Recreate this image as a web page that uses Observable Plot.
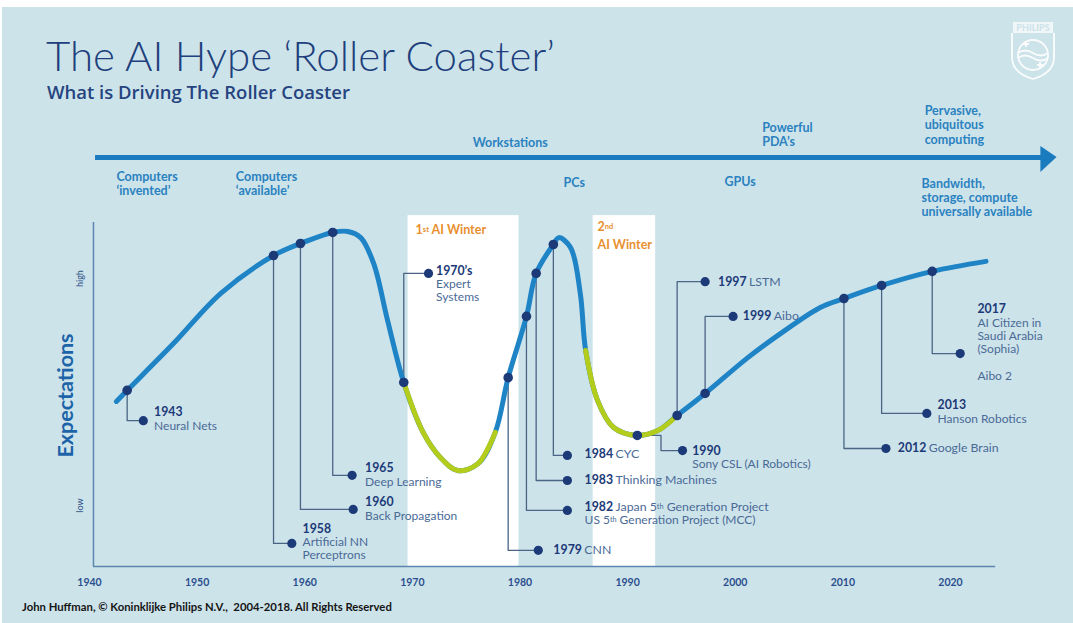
<!DOCTYPE html>
<html>
<head>
<meta charset="utf-8">
<script src="https://cdn.jsdelivr.net/npm/d3@7"></script>
<script src="https://cdn.jsdelivr.net/npm/@observablehq/plot@0.6"></script>
<style>
  html, body { margin: 0; padding: 0; background: #ffffff; }
  #wrap { position: absolute; left: 2px; top: 7px; width: 1071px; height: 616px; background: #cde3ea; overflow: hidden; }
  #head { position: absolute; left: 0; top: 0; width: 1071px; height: 93px; }
  #title { position: absolute; left: 44px; top: 27px; font-family: Lato, "Open Sans", sans-serif; font-weight: 300; font-size: 42px; line-height: 1; color: #203f7c; white-space: nowrap; }
  #sub { position: absolute; left: 45px; top: 76px; font-family: "Open Sans", Lato, sans-serif; font-weight: 600; font-size: 18.5px; line-height: 1; color: #25447f; white-space: nowrap; }
  #logo { position: absolute; left: 1007px; top: 14px; }
  #chart { position: absolute; left: 0; top: 93px; }
  #foot { position: absolute; left: 20px; top: 593px; font-family: Lato, sans-serif; font-weight: 700; font-size: 11.3px; line-height: 14px; color: #151515; white-space: nowrap; }
</style>
</head>
<body>
<div id="wrap">
  <div id="head">
    <div id="title">The AI Hype ‘Roller Coaster’</div>
    <div id="sub">What is Driving The Roller Coaster</div>
    <svg id="logo" width="48" height="62" viewBox="0 0 48 62">
      <g fill="none" stroke="#ffffff" stroke-width="1.8" opacity="0.9">
        <rect x="4" y="1" width="40" height="11" fill="#ffffff" stroke="none" opacity="0.8"/>
        <path d="M3,12 V36 Q3,52 24,58 Q45,52 45,36 V12"/>
        <circle cx="24" cy="34" r="15"/>
        <path d="M9,32 Q16,27 24,32 T39,32"/>
        <path d="M9,37 Q16,32 24,37 T39,37"/>
        <path d="M14,23 h6 M17,20 v6 M28,44 h6 M31,41 v6"/>
      </g>
      <text x="24" y="10" text-anchor="middle" font-family="Lato, sans-serif" font-weight="900" font-size="9" fill="#cde3ea">PHILIPS</text>
    </svg>
  </div>
  <div id="chart"></div>
  <div id="foot">John Huffman, © Koninklijke Philips N.V.,&nbsp; 2004-2018. All Rights Reserved</div>
</div>
<script>
// ---------- DATA ----------
// Hype curve: year and expectation level (0 = low, 100 = high)
const curveYear  = [1942.5, 1943.5, 1947.8, 1952.2, 1957.1, 1959.6, 1962.6, 1964.0, 1965.2, 1966.4, 1967.7, 1969.2, 1971.0, 1972.6, 1974.2, 1976.1, 1977.7, 1978.9, 1980.6, 1981.5, 1983.1, 1983.6, 1984.7, 1985.6, 1986.1, 1987.2, 1988.7, 1990.9, 1992.8, 1994.6, 1997.2, 2001.2, 2004.2, 2007.9, 2010.1, 2013.6, 2018.3, 2023.3];
const curveLevel = [48.0, 51.2, 64.8, 79.4, 90.4, 93.9, 97.1, 97.4, 95.6, 88.1, 71.5, 53.5, 39.0, 31.7, 27.9, 29.9, 39.0, 54.9, 72.7, 85.2, 93.6, 95.6, 92.7, 79.4, 62.8, 48.3, 40.4, 38.1, 39.5, 43.9, 50.3, 60.8, 67.7, 75.3, 77.9, 81.7, 85.8, 88.7];

// AI winters (year spans) and the green "winter" parts of the curve
const winterStart = [1969.6, 1986.8];
const winterEnd   = [1979.9, 1992.6];
const winterLabel = ["1st AI Winter", "2nd\nAI Winter"];
const winterLabelYear  = [1970.3, 1987.2];
const winterLabelLevel = [98.3, 96.5];
const greenStart = [1969.2, 1986.1];
const greenEnd   = [1977.7, 1994.6];

// Events
const eventYear   = ["1943", "1958", "1960", "1965", "1970’s", "1979", "1982", "1983", "1984", "1990", "1997", "1999", "2012", "2013", "2017"];
const eventInline = ["", "", "", "", "", "CNN", "Japan 5th Generation Project", "Thinking Machines", "CYC", "", "LSTM", "Aibo", "Google Brain", "", ""];
const eventBelow  = ["Neural Nets", "Artificial NN\nPerceptrons", "Back Propagation", "Deep Learning", "Expert\nSystems", "", "US 5th Generation Project (MCC)", "", "", "Sony CSL (AI Robotics)", "", "", "", "Hanson Robotics", "AI Citizen in\nSaudi Arabia\n(Sophia)\n\nAibo 2"];
const eventCurveYear  = [1943.5, 1957.1, 1959.6, 1962.6, 1969.2, 1978.9, 1980.6, 1981.5, 1983.1, 1990.9, 1994.6, 1997.2, 2010.1, 2013.6, 2018.3];
const eventElbowYear  = [null, null, null, null, null, null, null, null, null, 1993.1, null, null, null, null, null];
const eventDotYear    = [1945.0, 1958.8, 1964.5, 1964.4, 1971.5, 1981.7, 1984.4, 1984.4, 1984.4, 1995.1, 1997.2, 1999.8, 2014.0, 2017.8, 2020.9];
const eventDotLevel   = [42.4, 6.7, 16.6, 26.5, 85.2, 4.7, 16.3, 25.0, 32.3, 33.7, 82.8, 72.7, 34.3, 44.5, 61.9];
const eventTextYear   = [1946.0, 1959.8, 1965.6, 1965.6, 1972.2, 1983.1, 1986.0, 1986.0, 1986.0, 1996.0, 1998.4, 2000.7, 2015.1, 2018.8, 2022.5];
const eventTextLevel  = [44.8, 11.0, 18.6, 28.5, 86.0, 4.7, 17.4, 25.0, 32.8, 33.7, 82.8, 72.9, 34.3, 46.8, 74.7];

// Technology drivers along the top arrow
const aboveArrow      = ["Workstations", "Powerful\nPDA’s", "Pervasive,\nubiquitous\ncomputing"];
const aboveArrowYear  = [1975.6, 2002.5, 2017.6];
const aboveArrowLevel = [123.3, 125.6, 128.5];
const belowArrow      = ["Computers\n‘invented’", "Computers\n‘available’", "PCs", "GPUs", "Bandwidth,\nstorage, compute\nuniversally available"];
const belowArrowYear  = [1942.5, 1953.6, 1984.05, 1999.0, 2017.3];
const belowArrowLevel = [111.3, 111.3, 111.6, 111.9, 107.3];

// Axis ticks
const tickYears = [1940, 1950, 1960, 1970, 1980, 1990, 2000, 2010, 2020];

// ---------- LAYOUT (data units) ----------
const axisStartYear = 1940.37, axisEndYear = 2024.2;
const arrowLevel = 118.9, arrowStartYear = 1940.56, arrowEndYear = 2028.6;
const arrowHead = [{x: 2028.4, y1: 122.1, y2: 114.5}, {x: 2029.9, y1: 118.9, y2: 118.9}];
const winterTop = 102;

// ---------- BUILD TABLES ----------
const curve = curveYear.map((year, i) => ({year, level: curveLevel[i]}));
const levelAt = (y) => curveLevel[curveYear.indexOf(y)];
const greens = greenStart.map((s, i) => curve.filter(d => d.year >= s && d.year <= greenEnd[i]));
const winters = winterStart.map((s, i) => ({x1: s, x2: winterEnd[i], label: winterLabel[i], lx: winterLabelYear[i], ly: winterLabelLevel[i]}));
const events = eventYear.map((label, i) => ({
  label, inline: eventInline[i], below: eventBelow[i],
  cx: eventCurveYear[i], cy: levelAt(eventCurveYear[i]),
  ex: eventElbowYear[i], dx: eventDotYear[i], dy: eventDotLevel[i],
  tx: eventTextYear[i], ty: eventTextLevel[i]
}));
const connectors = events.flatMap(e => {
  const pts = e.ex == null
    ? [[e.cx, e.cy], [e.cx, e.dy], [e.dx, e.dy]]
    : [[e.cx, e.cy], [e.ex, e.cy], [e.ex, e.dy], [e.dx, e.dy]];
  return pts.map(([x, y]) => ({id: e.label, x, y}));
});
const above = aboveArrow.map((t, i) => ({t, x: aboveArrowYear[i], y: aboveArrowLevel[i]}));
const below = belowArrow.map((t, i) => ({t, x: belowArrowYear[i], y: belowArrowLevel[i]}));

const BLUE = "#1f84c6", GREEN = "#b4cc1c", NAVY = "#1c3a78", DESC = "#4a6a96", AXIS = "#5b86b0", DRIVER = "#2a82c0", ORANGE = "#e8902f";
const FONT = "Lato, 'Open Sans', sans-serif";

const chart = Plot.plot({
  width: 1071, height: 496,
  marginLeft: 87, marginRight: 123, marginTop: 122, marginBottom: 30,
  x: {domain: [1940, 2020], axis: null},
  y: {domain: [0, 100], axis: null},
  style: {background: "transparent", overflow: "visible"},
  marks: [
    Plot.rect(winters, {x1: "x1", x2: "x2", y1: 0, y2: winterTop, fill: "#ffffff"}),
    // axes
    Plot.ruleX([axisStartYear], {y1: 0, y2: 100, stroke: AXIS, strokeWidth: 1.5}),
    Plot.ruleY([0], {x1: axisStartYear, x2: axisEndYear, stroke: AXIS, strokeWidth: 1.5}),
    Plot.text(tickYears, {x: d => d, y: 0, dy: 16, text: d => String(d), fontFamily: FONT, fontWeight: 700, fontSize: 10.5, fill: "#2b4f8e"}),
    Plot.text(["Expectations"], {x: 1937.8, y: 49.7, rotate: -90, fontFamily: FONT, fontWeight: 700, fontSize: 21.5, fill: "#1c63a8"}),
    Plot.text(["high"], {x: 1939.16, y: 83.7, rotate: -90, fontFamily: FONT, fontSize: 9, fill: "#2c4f86"}),
    Plot.text(["low"], {x: 1939.16, y: 17.7, rotate: -90, fontFamily: FONT, fontSize: 9, fill: "#2c4f86"}),
    // top arrow
    Plot.ruleY([arrowLevel], {x1: arrowStartYear, x2: arrowEndYear, stroke: "#1b7bbf", strokeWidth: 5}),
    Plot.areaY(arrowHead, {x: "x", y1: "y1", y2: "y2", fill: "#1b7bbf"}),
    Plot.text(above, {x: "x", y: "y", text: "t", textAnchor: "start", lineAnchor: "middle", lineHeight: 1.17, fontFamily: FONT, fontWeight: 700, fontSize: 12.5, fill: DRIVER}),
    Plot.text(below, {x: "x", y: "y", text: "t", textAnchor: "start", lineAnchor: "middle", lineHeight: 1.15, fontFamily: FONT, fontWeight: 700, fontSize: 12.5, fill: DRIVER}),
    // winter labels
    Plot.text(winters, {x: "lx", y: "ly", text: "label", textAnchor: "start", lineAnchor: "middle", lineHeight: 1.45, fontFamily: FONT, fontWeight: 700, fontSize: 12.5, fill: ORANGE}),
    // connectors
    Plot.line(connectors, {x: "x", y: "y", z: "id", stroke: "#4a6485", strokeWidth: 1.3, curve: "linear"}),
    // curve
    Plot.line(curve, {x: "year", y: "level", curve: "catmull-rom", stroke: BLUE, strokeWidth: 5}),
    ...greens.map(g => Plot.line(g, {x: "year", y: "level", curve: "catmull-rom", stroke: GREEN, strokeWidth: 5})),
    // dots
    Plot.dot(events, {x: "cx", y: "cy", r: 4.8, fill: NAVY}),
    Plot.dot(events, {x: "dx", y: "dy", r: 4.6, fill: NAVY}),
    // labels
    Plot.text(events, {x: "tx", y: "ty", text: "label", textAnchor: "start", lineAnchor: "middle", fontFamily: FONT, fontWeight: 700, fontSize: 12.3, fill: NAVY}),
    Plot.text(events.filter(e => e.inline), {x: "tx", y: "ty", dx: 31, text: "inline", textAnchor: "start", lineAnchor: "middle", fontFamily: FONT, fontSize: 12.3, fill: DESC}),
    Plot.text(events.filter(e => e.below), {x: "tx", y: "ty", dy: 8, text: "below", textAnchor: "start", lineAnchor: "top", lineHeight: 1.1, fontFamily: FONT, fontSize: 12, fill: DESC})
  ]
});
document.getElementById("chart").appendChild(chart);

// ordinal suffixes as superscripts (1st, 2nd, 5th)
(function superscripts(root) {
  const nodes = Array.from(root.querySelectorAll("text, tspan")).filter(n => n.children.length === 0 && /\d(st|nd|th)\b/.test(n.textContent));
  const NS = "http://www.w3.org/2000/svg";
  nodes.forEach(n => {
    const parts = n.textContent.split(/(?<=\d)(st|nd|th)\b/);
    n.textContent = "";
    parts.forEach((p, i) => {
      if (!p) return;
      const t = document.createElementNS(NS, "tspan");
      t.textContent = p;
      if (i % 2 === 1) { t.setAttribute("baseline-shift", "30%"); t.setAttribute("font-size", "60%"); }
      n.appendChild(t);
    });
  });
})(chart);
</script>
</body>
</html>
